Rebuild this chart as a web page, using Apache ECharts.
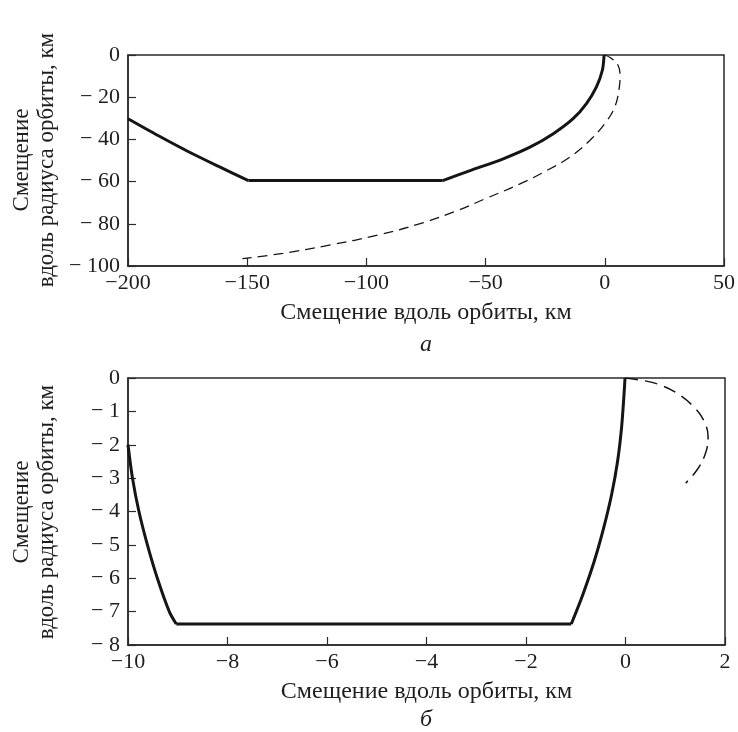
<!DOCTYPE html>
<html>
<head>
<meta charset="utf-8">
<script src="https://cdn.jsdelivr.net/npm/echarts@6/dist/echarts.min.js"></script>
<style>
html,body{margin:0;padding:0;background:#fff;}
#chart{width:738px;height:732px;}
</style>
</head>
<body>
<div id="chart"></div>
<script>
// ---- Data (km) ----
// Top chart (а)
const topXTicks = [-200, -150, -100, -50, 0, 50];
const topYTicks = [0, -20, -40, -60, -80, -100];
const topSolidLeft = [[-200, -30.2], [-187, -38.4], [-175, -45.6], [-162, -52.8], [-149.5, -59.5]];
const topSolidFlat = [[-149.5, -59.5], [-68, -59.5]];
const topSolidRight = [[-68, -59.5], [-56.5, -54.8], [-42.6, -49.2], [-31.4, -43.7], [-21.6, -37.3], [-13.3, -30.2], [-7.7, -23], [-3.5, -15.1], [-1, -7.1], [-0.3, 0]];
const topDashed = [[0, 0], [2.8, -1.6], [5.6, -5], [6.4, -9.5], [6.1, -15.1], [4.2, -24.6], [0, -32.5], [-6.3, -40.5], [-14.7, -48.4], [-24.4, -54.8], [-35.6, -61.1], [-50.3, -68.2], [-62, -73.8], [-76, -79.4], [-95, -85.3], [-115, -90], [-135, -94], [-152, -96.5]];

// Bottom chart (б)
const botXTicks = [-10, -8, -6, -4, -2, 0, 2];
const botYTicks = [0, -1, -2, -3, -4, -5, -6, -7, -8];
const botSolidLeft = [[-10, -2.0], [-9.91, -3.0], [-9.78, -4.0], [-9.61, -5.0], [-9.41, -6.0], [-9.17, -7.0], [-9.03, -7.37]];
const botSolidFlat = [[-9.03, -7.37], [-1.09, -7.37]];
const botSolidRight = [[-1.09, -7.37], [-0.86, -6.5], [-0.63, -5.5], [-0.44, -4.5], [-0.28, -3.5], [-0.16, -2.5], [-0.08, -1.5], [-0.03, -0.5], [-0.01, 0]];
const botDashed = [[-0.01, 0], [0.37, -0.08], [0.70, -0.21], [1.04, -0.46], [1.37, -0.86], [1.57, -1.26], [1.66, -1.76], [1.61, -2.25], [1.44, -2.75], [1.21, -3.15]];

const xTitle = 'Смещение вдоль орбиты, км';
const yTitle1 = 'Смещение';
const yTitle2 = 'вдоль радиуса орбиты, км';

// ---- Styling ----
const FONT = '"Liberation Serif", "Times New Roman", serif';
const AX = '#2a2a2a';
const TXT = '#1e1e1e';
const minusX = v => (v < 0 ? '\u2212' + Math.abs(v) : String(v));
const minusY = v => (v < 0 ? '\u2212 ' + Math.abs(v) : String(v));

function xAxisCfg(gridIndex, ticks) {
  return {
    type: 'value', gridIndex,
    min: ticks[0], max: ticks[ticks.length - 1], interval: ticks[1] - ticks[0],
    axisLine: { show: true, onZero: false, lineStyle: { color: AX, width: 1.5 } },
    axisTick: { show: true, inside: true, length: 8, lineStyle: { color: AX, width: 1.2 } },
    axisLabel: { formatter: minusX, color: TXT, fontFamily: FONT, fontSize: 22, margin: 6 },
    splitLine: { show: false },
    name: xTitle, nameLocation: 'middle', nameGap: 35,
    nameTextStyle: { color: TXT, fontFamily: FONT, fontSize: 24 }
  };
}
function yAxisCfg(gridIndex, ticks) {
  return {
    type: 'value', gridIndex,
    min: ticks[ticks.length - 1], max: ticks[0], interval: ticks[0] - ticks[1],
    axisLine: { show: true, onZero: false, lineStyle: { color: AX, width: 1.5 } },
    axisTick: { show: true, inside: true, length: 8, lineStyle: { color: AX, width: 1.2 } },
    axisLabel: { formatter: minusY, color: TXT, fontFamily: FONT, fontSize: 22, margin: 8 },
    splitLine: { show: false }
  };
}
function solid(data, gi) {
  return { type: 'line', xAxisIndex: gi, yAxisIndex: gi, data, showSymbol: false, smooth: 0.3,
    lineStyle: { color: '#151515', width: 3 }, silent: true, animation: false };
}
function dashed(data, gi, dash, w) {
  return { type: 'line', xAxisIndex: gi, yAxisIndex: gi, data, showSymbol: false, smooth: 0.4,
    lineStyle: { color: '#151515', width: w, type: dash }, silent: true, animation: false };
}
function vtext(text, x, y) {
  return { type: 'text', x, y, rotation: Math.PI / 2,
    style: { text, align: 'center', verticalAlign: 'middle', fontFamily: FONT, fontSize: 23, fill: TXT } };
}

const chart = echarts.init(document.getElementById('chart'), null, { renderer: 'canvas' });
chart.setOption({
  backgroundColor: '#ffffff',
  animation: false,
  grid: [
    { left: 128, top: 55, width: 597, height: 211, show: true, borderColor: AX, borderWidth: 1.5, backgroundColor: 'transparent' },
    { left: 128, top: 378, width: 597, height: 267, show: true, borderColor: AX, borderWidth: 1.5, backgroundColor: 'transparent' }
  ],
  xAxis: [xAxisCfg(0, topXTicks), xAxisCfg(1, botXTicks)],
  yAxis: [yAxisCfg(0, topYTicks), yAxisCfg(1, botYTicks)],
  series: [
    solid(topSolidLeft, 0), solid(topSolidFlat, 0), solid(topSolidRight, 0), dashed(topDashed, 0, [10, 6], 1.3),
    solid(botSolidLeft, 1), solid(botSolidFlat, 1), solid(botSolidRight, 1), dashed(botDashed, 1, [13, 7], 1.5)
  ],
  graphic: [
    vtext(yTitle1, 22, 160), vtext(yTitle2, 47, 160),
    vtext(yTitle1, 22, 512), vtext(yTitle2, 47, 512),
    { type: 'text', x: 426, y: 345, style: { text: 'а', align: 'center', verticalAlign: 'middle', fontFamily: FONT, fontStyle: 'italic', fontSize: 24, fill: TXT } },
    { type: 'text', x: 426, y: 720, style: { text: 'б', align: 'center', verticalAlign: 'middle', fontFamily: FONT, fontStyle: 'italic', fontSize: 24, fill: TXT } }
  ]
});
</script>
</body>
</html>
